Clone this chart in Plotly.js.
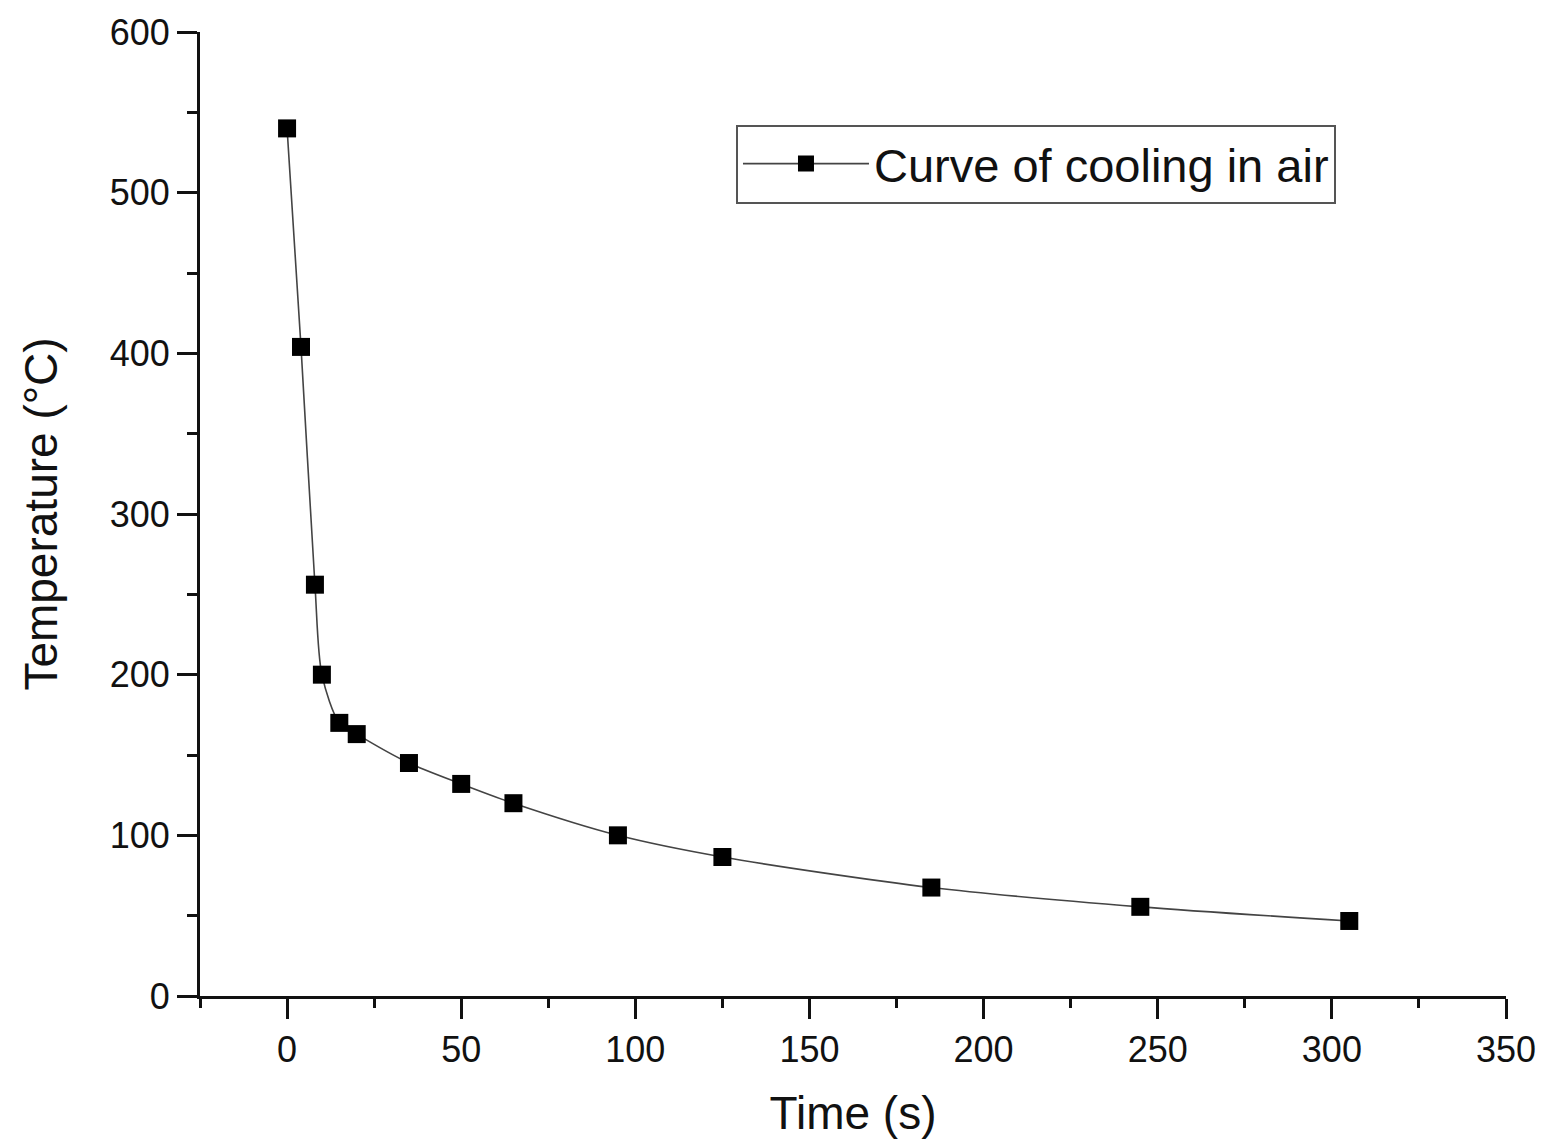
<!DOCTYPE html>
<html>
<head>
<meta charset="utf-8">
<script src="https://cdn.plot.ly/plotly-3.0.1.min.js"></script>
<style>html,body{margin:0;padding:0;background:#fff;}#chart{width:1549px;height:1148px;}</style>
</head>
<body>
<div id="chart"></div>
<script>
const timeS = [0, 4, 8, 10, 15, 20, 35, 50, 65, 95, 125, 185, 245, 305];
const temperatureC = [540, 404, 256, 200, 170, 163, 145, 132, 120, 100, 86.5, 67.5, 55.5, 46.7];
const seriesName = 'Curve of cooling in air';
const xTitle = 'Time (s)';
const yTitle = 'Temperature (°C)';

const font = 'Arial, "Liberation Sans", sans-serif';

const trace = {
  x: timeS, y: temperatureC, name: seriesName,
  type: 'scatter', mode: 'lines+markers',
  line: {color: '#444', width: 1.6, shape: 'spline', smoothing: 0.8},
  marker: {symbol: 'square', size: 18, color: '#000'},
  showlegend: true
};

const layout = {
  width: 1549, height: 1148,
  margin: {l: 200, r: 43, t: 32, b: 152},
  paper_bgcolor: '#fff', plot_bgcolor: '#fff',
  font: {family: font, color: '#111', size: 36},
  showlegend: true,
  legend: {
    x: 0.4104, y: 0.863, xanchor: 'left', yanchor: 'middle',
    bordercolor: '#555', borderwidth: 2, bgcolor: '#fff',
    font: {family: font, size: 47, color: '#111'},
    itemwidth: 126
  },
  xaxis: {
    range: [-25, 350], dtick: 50, tick0: 0,
    showgrid: false, zeroline: false,
    showline: true, linecolor: '#111', linewidth: 3,
    ticks: 'outside', ticklen: 20, tickwidth: 3, tickcolor: '#111',
    minor: {dtick: 25, tick0: 0, ticklen: 9, tickwidth: 3, tickcolor: '#111', ticks: 'outside'},
    tickfont: {family: font, size: 36, color: '#111'},
    title: {text: xTitle, font: {family: font, size: 46, color: '#111'}, standoff: 28},
    automargin: false
  },
  yaxis: {
    range: [0, 600], dtick: 100, tick0: 0,
    showgrid: false, zeroline: false,
    showline: true, linecolor: '#111', linewidth: 3,
    ticks: 'outside', ticklen: 20, tickwidth: 3, tickcolor: '#111',
    minor: {dtick: 50, tick0: 0, ticklen: 10, tickwidth: 3, tickcolor: '#111', ticks: 'outside'},
    tickfont: {family: font, size: 36, color: '#111'},
    title: {text: yTitle, font: {family: font, size: 46, color: '#111'}, standoff: 38},
    automargin: false
  }
};

Plotly.newPlot('chart', [trace], layout, {displayModeBar: false, staticPlot: true});
</script>
</body>
</html>
